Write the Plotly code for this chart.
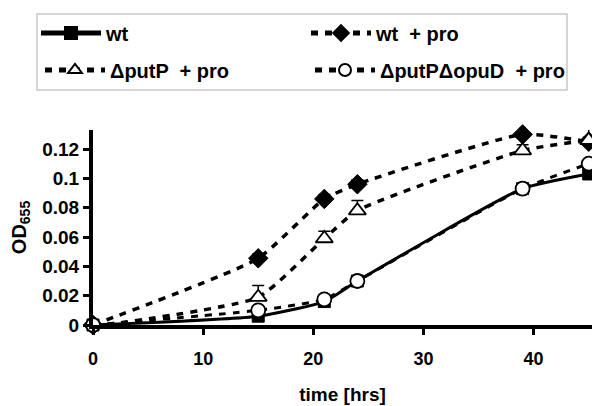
import plotly.graph_objects as go

# ---- data ----
time_hrs = [0, 15, 21, 24, 39, 45]
wt = [0.000, 0.006, 0.016, 0.030, 0.093, 0.103]
wt_pro = [0.000, 0.0455, 0.086, 0.096, 0.130, 0.125]
putP_pro = [-0.001, 0.019, 0.059, 0.078, 0.119, 0.126]
putPopuD_pro = [0.000, 0.010, 0.0175, 0.030, 0.093, 0.110]
wt_pro_err = [0, 0.003, 0.003, 0.003, 0.007, 0.003]
putP_pro_err = [0, 0.008, 0.005, 0.007, 0.004, 0.009]
zero_err = [0, 0, 0, 0, 0, 0]

x_ticks = [0, 10, 20, 30, 40]
y_ticks = [0, 0.02, 0.04, 0.06, 0.08, 0.10, 0.12]
y_ticktext = ["0", "0.02", "0.04", "0.06", "0.08", "0.1", "0.12"]

names = ["wt", "wt  + pro", "ΔputP  + pro", "ΔputPΔopuD  + pro"]

FONT = "Liberation Sans, Arial, sans-serif"
DASH = "7px,7px"

fig = go.Figure()

fig.add_trace(go.Scatter(
    x=time_hrs, y=wt, name=names[0], mode="lines+markers", legend="legend",
    line=dict(color="black", width=3, shape="spline", smoothing=0.5),
    marker=dict(symbol="square", size=12, color="black", line=dict(color="black", width=1)),
    cliponaxis=False))

fig.add_trace(go.Scatter(
    x=time_hrs, y=wt_pro, name=names[1], mode="lines+markers", legend="legend2",
    line=dict(color="black", width=3.5, dash=DASH, shape="spline", smoothing=0.5),
    marker=dict(symbol="diamond", size=15, color="black", line=dict(color="black", width=1)),
    error_y=dict(type="data", array=wt_pro_err, arrayminus=zero_err, symmetric=False,
                 color="black", thickness=1.5, width=6),
    cliponaxis=False))

fig.add_trace(go.Scatter(
    x=time_hrs, y=putP_pro, name=names[2], mode="lines+markers", legend="legend3",
    line=dict(color="black", width=3.5, dash=DASH, shape="spline", smoothing=0.5),
    marker=dict(symbol="triangle-up", size=15, color="white", line=dict(color="black", width=1.8)),
    error_y=dict(type="data", array=putP_pro_err, arrayminus=zero_err, symmetric=False,
                 color="black", thickness=1.5, width=6),
    cliponaxis=False))

fig.add_trace(go.Scatter(
    x=time_hrs, y=putPopuD_pro, name=names[3], mode="lines+markers", legend="legend4",
    line=dict(color="black", width=3, dash=DASH, shape="spline", smoothing=0.5),
    marker=dict(symbol="circle", size=14, color="white", line=dict(color="black", width=1.8)),
    cliponaxis=False))

# page body has an 8px margin: compensate so the plot lands where the reference has it
OFF = 8
W, H = 600, 406
L, R, T, B = 93 - OFF, 16, 130 - OFF, 89
pw, ph = W - L - R, H - T - B

def px_x(p):
    return (p - OFF - L) / pw

def px_y(p):
    return (H - B - (p - OFF)) / ph

def cx(p):
    return (p - OFF) / W

def cy(p):
    return 1 - (p - OFF) / H

leg_common = dict(orientation="h", bgcolor="rgba(0,0,0,0)", borderwidth=0,
                  font=dict(family=FONT, size=20, color="black", weight="bold"),
                  xref="container", yref="container", itemsizing="constant",
                  xanchor="left", yanchor="middle", itemwidth=60)

fig.update_layout(
    width=W, height=H,
    margin=dict(l=L, r=R, t=T, b=B, pad=0, autoexpand=False),
    paper_bgcolor="white", plot_bgcolor="white",
    font=dict(family=FONT, size=17, color="black", weight="bold"),
    showlegend=True,
    legend=dict(x=cx(36), y=cy(33), **leg_common),
    legend2=dict(x=cx(306), y=cy(33), **leg_common),
    legend3=dict(x=cx(40), y=cy(70), **leg_common),
    legend4=dict(x=cx(310), y=cy(70), **leg_common),
    xaxis=dict(range=[0, 45.3], tickvals=x_ticks, ticks="outside", ticklen=6, tickwidth=3,
               tickcolor="black", showline=True, linewidth=4, linecolor="black",
               showgrid=False, zeroline=False, automargin=False, ticklabelstandoff=8,
               tickfont=dict(family=FONT, size=18, weight="bold"),
               title=dict(text="time [hrs]", standoff=21,
                          font=dict(family=FONT, size=19, weight="bold"))),
    yaxis=dict(range=[0, 0.133], tickvals=y_ticks, ticktext=y_ticktext, ticks="outside",
               ticklen=6, tickwidth=3, tickcolor="black", showline=True, linewidth=4,
               linecolor="black", showgrid=False, zeroline=False, automargin=False,
               tickfont=dict(family=FONT, size=19, weight="bold"),
               title=dict(text="OD<sub>655</sub>", standoff=12,
                          font=dict(family=FONT, size=20, weight="bold"))),
    shapes=[dict(type="rect", xref="paper", yref="paper",
                 x0=px_x(37), x1=px_x(567), y0=px_y(90), y1=px_y(14),
                 line=dict(color="#c8c8c8", width=1.5), fillcolor="rgba(0,0,0,0)",
                 layer="below")],
)

fig.write_html("out.html")
